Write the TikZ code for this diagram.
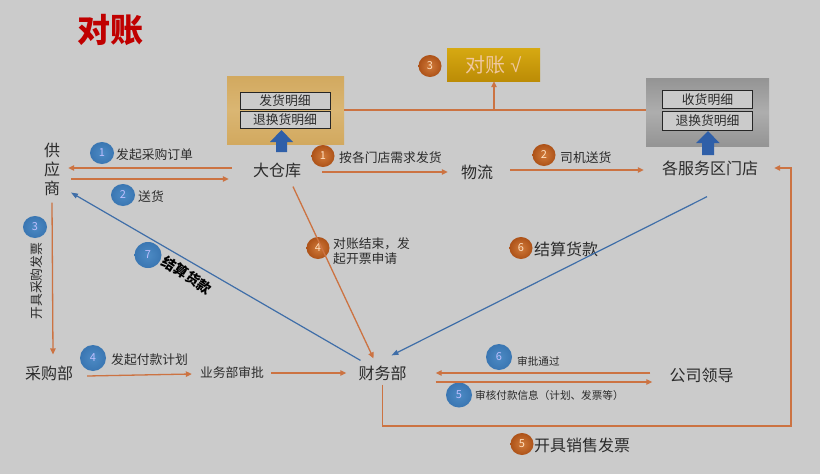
\documentclass[tikz,border=0pt]{standalone}
\usepackage{fontspec}
\setmainfont{Noto Sans CJK SC}
\newfontfamily\checkfont{Liberation Sans}
\usetikzlibrary{arrows.meta,shapes.geometric}
\definecolor{bg}{HTML}{CBCBCB}
\definecolor{ink}{HTML}{2B2B2B}
\definecolor{orl}{HTML}{CC7342}
\definecolor{bll}{HTML}{3F6EA8}
\definecolor{blk}{HTML}{2F5FA8}
\definecolor{oin}{HTML}{D07A3A}
\definecolor{oout}{HTML}{AD5218}
\definecolor{bin}{HTML}{4C8AC4}
\definecolor{bout}{HTML}{3A76B2}
\definecolor{whe}{HTML}{D2A95F}
\definecolor{whm}{HTML}{DAB673}
\definecolor{gtop}{HTML}{D6A912}
\definecolor{gbot}{HTML}{BC8C06}
\definecolor{gtxt}{HTML}{F0C8A0}
\definecolor{titlered}{HTML}{C00000}
\tikzset{
 big/.style={inner sep=0pt,text=ink,font=\fontsize{16}{18}\selectfont},
 mid/.style={inner sep=0pt,text=ink,font=\fontsize{12.8}{15.5}\selectfont},
 sml/.style={inner sep=0pt,text=ink,font=\fontsize{10.6}{12}\selectfont},
 obadge/.style={ellipse,inner sep=0pt,minimum width=23pt,minimum height=22pt,inner color=oin,outer color=oout,text=white!75!orange,font=\fontsize{11}{12}\selectfont},
 bbadge/.style={ellipse,inner sep=0pt,minimum width=24pt,minimum height=22pt,inner color=bin,outer color=bout,text=white!75!blue,font=\fontsize{11}{12}\selectfont},
 conn/.style={draw=orl,line width=1.3pt,-{Triangle[length=6pt,width=5.5pt]}},
 plain/.style={draw=orl,line width=1.3pt},
 bconn/.style={draw=bll,line width=1.2pt,-{Triangle[length=7pt,width=5pt]}},
 detail/.style={draw=black!85,line width=1pt,fill=bg,inner sep=0pt,text=ink,font=\fontsize{12.8}{14}\selectfont},
 upblock/.style={fill=blk,draw=none},
}
\begin{document}
\begin{tikzpicture}[x=1pt,y=-1pt]
\useasboundingbox (0,0) rectangle (820,474);
\fill[bg] (0,0) rectangle (820,474);
\node[inner sep=0pt,text=titlered,font=\fontsize{33}{36}\bfseries\selectfont] (title) at (110,30) {对账};
% panels
\node[minimum width=117pt,minimum height=68pt,inner sep=0pt,top color=whe,bottom color=whe,middle color=whm] (wh) at (285.5,110) {};
\node[minimum width=123pt,minimum height=68pt,inner sep=0pt,top color=black!42,bottom color=black!42,middle color=black!32] (st) at (707.5,112) {};
\node[detail,minimum width=90pt,minimum height=17pt] (wh1) at (285,100.5) {发货明细};
\node[detail,minimum width=90pt,minimum height=17pt] (wh2) at (285,119.5) {退换货明细};
\node[detail,minimum width=90pt,minimum height=18pt] (st1) at (707.5,99.5) {收货明细};
\node[detail,minimum width=90pt,minimum height=19pt] (st2) at (707.5,121) {退换货明细};
\fill[upblock] (281.5,130) -- (293,142) -- (287,142) -- (287,152) -- (276,152) -- (276,142) -- (270,142) -- cycle;
\fill[upblock] (708,131) -- (719.5,143) -- (714,143) -- (714,155) -- (702,155) -- (702,143) -- (696,143) -- cycle;
\node[minimum width=93pt,minimum height=33pt,inner sep=0pt,top color=gtop,bottom color=gbot,text=gtxt,font=\fontsize{20}{22}\selectfont] (chk) at (493.5,64.5) {对账 {\checkfont √}};
\node[obadge] (b3o) at (430,66) {3};
% labels
\node[big,align=center,text width=16pt] (gys) at (52,169) {供\\[1pt]应\\[1pt]商};
\node[big] (dc) at (277,170) {大仓库};
\node[big] (wl) at (477,172) {物流};
\node[big] (md) at (710,168) {各服务区门店};
\node[big] (cg) at (49,373) {采购部};
\node[mid] (yw) at (232,373) {业务部审批};
\node[big] (cw) at (382.5,373) {财务部};
\node[big] (ld) at (701.5,375) {公司领导};
\node[bbadge] (b1) at (102,153) {1};
\node[mid,anchor=west] (t1) at (116,155) {发起采购订单};
\node[bbadge] (b2) at (123,195) {2};
\node[mid,anchor=west] (t2) at (138,197) {送货};
\node[obadge] (o1) at (323,156) {1};
\node[mid,anchor=west] (t3) at (339,158) {按各门店需求发货};
\node[obadge] (o2) at (544,155) {2};
\node[mid,anchor=west] (t4) at (560,158) {司机送货};
\node[bbadge] (b3) at (35,227) {3};
\node[mid,rotate=90] (t5) at (37,281) {开具采购发票};
\node[bbadge,minimum width=26pt,minimum height=26pt] (b4) at (93,358) {4};
\node[mid,anchor=west] (t6) at (111,360) {发起付款计划};
\node[bbadge,minimum width=27pt,minimum height=26pt] (b7) at (148,255) {7};
\node[inner sep=0pt,text=black,rotate=-33,font=\fontsize{14}{16}\bfseries\selectfont] (t7) at (187,275) {结算货款};
\node[obadge] (o4) at (318,248) {4};
\node[mid,anchor=west,align=left] (t8) at (333,251) {对账结束，发\\起开票申请};
\node[obadge] (o6) at (521,248) {6};
\node[big,anchor=west] (t9) at (534,249) {结算货款};
\node[bbadge,minimum width=26pt,minimum height=26pt] (b6) at (499,357) {6};
\node[sml,anchor=west] (t10) at (517,361) {审批通过};
\node[bbadge,minimum width=26pt,minimum height=25pt] (b5) at (459,395) {5};
\node[sml,anchor=west] (t11) at (475,395) {审核付款信息（计划、发票等）};
\node[obadge] (o5) at (522,444) {5};
\node[big,anchor=west] (t12) at (534,445) {开具销售发票};
% connectors
\draw[plain] (wh.east) -- (wh.east -| st.west);
\coordinate (jn) at (494,110);
\draw[conn] (jn) -- (chk.south -| jn);
\draw[conn] ([shift={(-21,-2)}]dc.west) -- ([shift={(8,-1)}]gys.east);
\draw[conn] ([shift={(11,10)}]gys.east) -- ([shift={(-24,9)}]dc.west);
\draw[conn] ([shift={(21,2)}]dc.east) -- ([shift={(-13,0)}]wl.west);
\draw[conn] ([shift={(17,-2)}]wl.east) -- ([shift={(-18,2)}]md.west);
\draw[bconn] ([shift={(-3,21)}]md.south) -- ([shift={(9,-10)}]cw.north);
\draw[conn] ([shift={(16,9)}]dc.south) -- ([shift={(-9,-7)}]cw.north);
\draw[bconn] ([shift={(-22,-5)}]cw.north) -- ([shift={(19,-3)}]gys.south);
\draw[conn] ([shift={(0,7)}]gys.south) -- ([shift={(4,-11)}]cg.north);
\draw[conn] ([shift={(14,3)}]cg.east) -- ([shift={(-8,1)}]yw.west);
\draw[conn] ([shift={(7,0)}]yw.east) -- ([shift={(-12,0)}]cw.west);
\draw[conn] ([shift={(-19,-2)}]ld.west) -- ([shift={(29,0)}]cw.east);
\draw[conn] ([shift={(29,9)}]cw.east) -- ([shift={(-17,7)}]ld.west);
\coordinate (bend1) at (382.5,426);
\coordinate (bend2) at (791,426);
\draw[conn] ([yshift=-4pt]cw.south) -- (bend1) -- (bend2) -- (bend2 |- md.east) -- ([xshift=16pt]md.east);
\end{tikzpicture}
\end{document}
